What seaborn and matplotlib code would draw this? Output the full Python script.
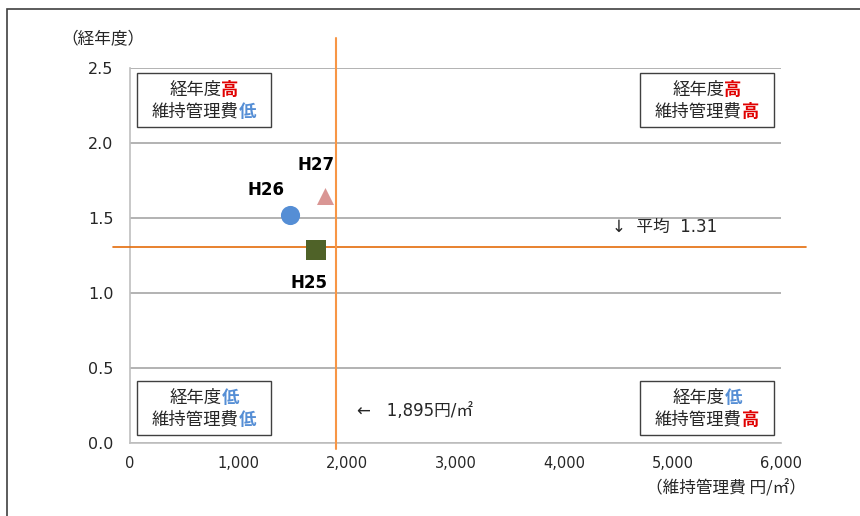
import matplotlib
matplotlib.use("Agg")
import matplotlib.pyplot as plt
from matplotlib.patches import Rectangle
import seaborn as sns
import pandas as pd

# Data
years = ["H25", "H26", "H27"]
cost = [1714, 1475, 1797]          # 維持管理費 円/㎡
age = [1.29, 1.52, 1.65]           # 経年度
avg_cost = 1895
avg_age = 1.31
x_ticks = [0, 1000, 2000, 3000, 4000, 5000, 6000]
y_ticks = [0.0, 0.5, 1.0, 1.5, 2.0, 2.5]

df = pd.DataFrame({"year": years, "cost": cost, "age": age})

sns.set_theme(style="white")
plt.rcParams["font.family"] = ["DejaVu Sans", "Noto Sans CJK JP"]

fig = plt.figure(figsize=(8.6, 5.16), dpi=100)
ax = fig.add_axes([130 / 860, 1 - 443 / 516, 651 / 860, 375 / 516])

# outer frame
fig.patches.append(Rectangle((7 / 860, -0.1), 1.2, 1 - 9 / 516 + 0.1,
                             transform=fig.transFigure, fill=False,
                             edgecolor="#404040", linewidth=1.2))

markers = {"H25": "s", "H26": "o", "H27": "^"}
palette = {"H25": "#4F6228", "H26": "#558ED5", "H27": "#D99694"}
sizes = {"H25": 190, "H26": 190, "H27": 150}
for yr in years:
    sub = df[df["year"] == yr]
    sns.scatterplot(data=sub, x="cost", y="age", marker=markers[yr],
                    color=palette[yr], s=sizes[yr], linewidth=0, ax=ax,
                    zorder=5)

ax.set_xlim(0, 6000)
ax.set_ylim(0, 2.5)
ax.set_xticks(x_ticks)
ax.set_xticklabels([f"{v:,}" for v in x_ticks])
ax.set_yticks(y_ticks)
ax.set_yticklabels([f"{v:.1f}" for v in y_ticks])
ax.set_xlabel("")
ax.set_ylabel("")
ax.grid(axis="y", color="#A6A6A6", linewidth=1.2)
ax.grid(axis="x", visible=False)
for s in ["top", "right"]:
    ax.spines[s].set_visible(False)
for s in ["left", "bottom"]:
    ax.spines[s].set_color("#BFBFBF")
    ax.spines[s].set_linewidth(1.2)
ax.tick_params(axis="both", length=5, width=1.2, color="#A6A6A6",
               labelcolor="#262626", direction="out")
ax.tick_params(axis="x", labelsize=10.5, pad=4)
ax.tick_params(axis="y", labelsize=11.5, pad=7)

# average lines
ax.plot([-157, 6230], [avg_age, avg_age], color="#E46C0A", linewidth=1.2,
        clip_on=False, zorder=3)
ax.plot([avg_cost, avg_cost], [-0.04, 2.7], color="#F79646", linewidth=1.5,
        clip_on=False, zorder=3)

# point labels
label_pos = {"H25": (-5, -24), "H26": (-17, 18), "H27": (-6.5, 22)}
for yr, x, y in zip(years, cost, age):
    ax.annotate(yr, (x, y), xytext=label_pos[yr], textcoords="offset points",
                ha="center", va="center", fontsize=12, fontweight="bold",
                color="#000000")

ax.text(4445, avg_age + 0.13, "↓  平均  1.31", fontsize=12, ha="left",
        va="center", color="#262626")
ax.text(2090, 0.21, "←   1,895円/㎡", fontsize=12, ha="left",
        va="center", color="#262626")

# quadrant boxes
RED = "#E00000"
BLUE = "#558ED5"
fs = 12.5
gap = 0.0  # points between the plain and the coloured word
boxes = [
    (137, 73, "高", RED, "低", BLUE),
    (640, 73, "高", RED, "高", RED),
    (137, 381, "低", BLUE, "低", BLUE),
    (640, 381, "低", BLUE, "高", RED),
]
cjk = ["Noto Sans CJK JP"]
pairs = []
for px, py, w1, c1, w2, c2 in boxes:
    bw, bh = 134, 54
    x0 = (px - 130) / 651
    y0 = (443 - (py + bh)) / 375
    ax.add_patch(Rectangle((x0, y0), bw / 651, bh / 375,
                           transform=ax.transAxes, fill=True,
                           facecolor="white", edgecolor="#404040",
                           linewidth=1.0, zorder=6))
    cx = (px + bw / 2 - 130) / 651
    for dy, head, word, col in [(17, "経年度", w1, c1),
                                (39, "維持管理費", w2, c2)]:
        cy = (443 - (py + dy)) / 375
        t1 = ax.text(cx, cy, head, transform=ax.transAxes, ha="left",
                     va="center", fontsize=fs, family=cjk, color="#262626",
                     zorder=7)
        t2 = ax.annotate(word, xy=(1, 0.5), xycoords=t1,
                         xytext=(gap, 0), textcoords="offset points",
                         ha="left", va="center", fontsize=fs, family=cjk,
                         fontweight="bold", color=col, zorder=7)
        pairs.append((t1, t2, cx))

# centre each two-colour line inside its box
fig.canvas.draw()
renderer = fig.canvas.get_renderer()
ax_w = ax.get_window_extent(renderer).width
for t1, t2, cx in pairs:
    w1 = t1.get_window_extent(renderer).width
    w2 = t2.get_window_extent(renderer).width
    total = w1 + w2 + gap * fig.dpi / 72
    x, y = t1.get_position()
    t1.set_position((cx - total / 2 / ax_w, y))

# axis titles
fig.text(61 / 860, 1 - 40 / 516, "（経年度）", fontsize=12, ha="left",
         va="center", family=cjk, color="#262626")
fig.text(806 / 860, 1 - 489 / 516, "（維持管理費 円/㎡）", fontsize=12,
         ha="right", va="center", family=cjk, color="#262626")

fig.savefig("out.png", dpi=100)
